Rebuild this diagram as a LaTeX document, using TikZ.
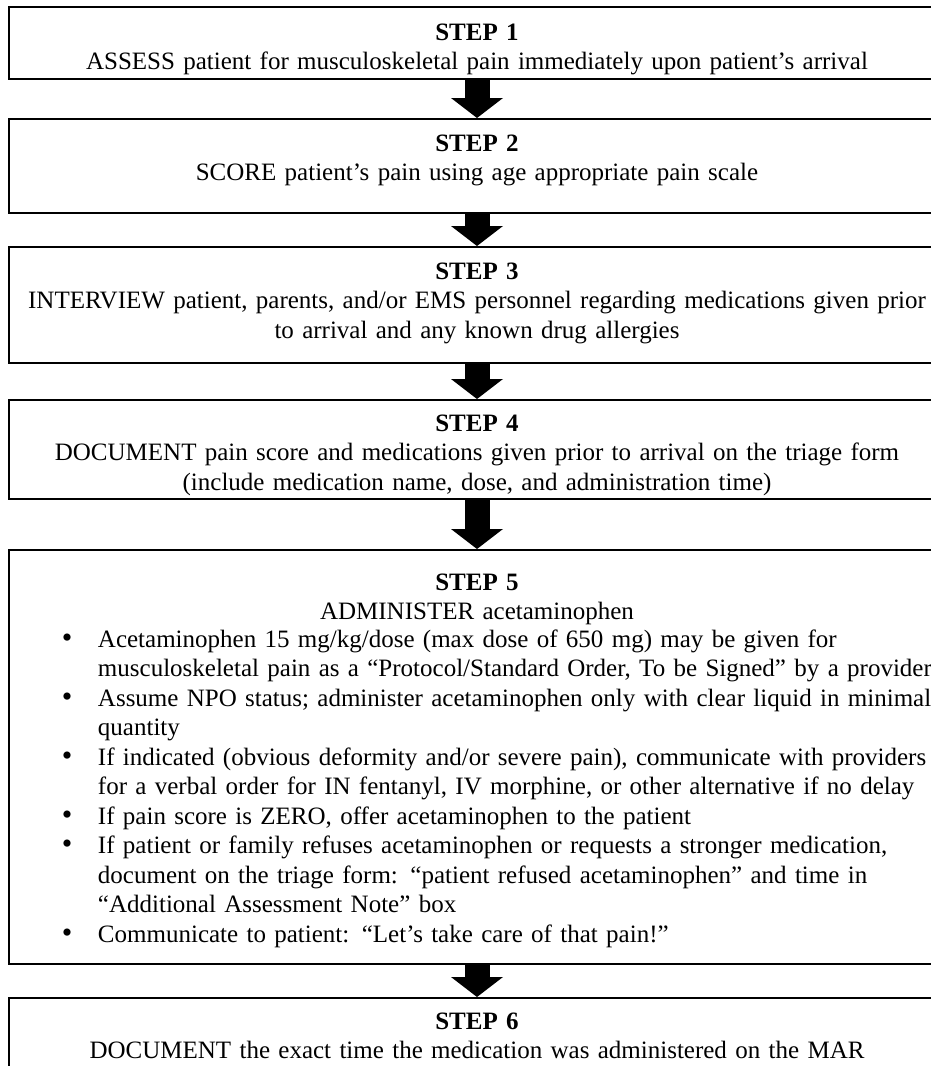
\documentclass[tikz,border=0pt]{standalone}
\usepackage{fontspec}
\setmainfont{Liberation Serif}
\usetikzlibrary{arrows.meta}
\newcommand{\boxw}{468pt}
\newcommand{\bul}{{\fontsize{15pt}{15pt}\selectfont\textbullet}}
\tikzstyle{stepbox}=[draw, line width=1pt, rectangle, anchor=north, inner xsep=0pt, inner ysep=0pt, text width=\boxw, minimum width=\boxw, align=center, font=\fontsize{12.5pt}{14.75pt}\selectfont]
\tikzstyle{bigarrow}=[line width=12.5pt, -{Triangle[width=26pt,length=10pt,line width=0pt]}]
\begin{document}
\begin{tikzpicture}[x=0.5pt,y=-0.5pt]
    \useasboundingbox (0,0) rectangle (931,1066);
    % The six steps, top to bottom
    \node[stepbox, text height=16.5pt, text depth=19.5pt] (s1) at (477,6) {\textbf{STEP 1}\\ ASSESS patient for musculoskeletal pain immediately upon patient’s arrival};
    \node[stepbox, text height=16pt, text depth=31pt] (s2) at (477,118) {\textbf{STEP 2}\\ SCORE patient’s pain using age appropriate pain scale};
    \node[stepbox, text height=16pt, text depth=42pt] (s3) at (477,246) {\textbf{STEP 3}\\ INTERVIEW patient, parents, and/or EMS personnel regarding medications given prior\\ to arrival and any known drug allergies};
    \node[stepbox, text height=15.5pt, text depth=34pt] (s4) at (477,399) {\textbf{STEP 4}\\ DOCUMENT pain score and medications given prior to arrival on the triage form\\ (include medication name, dose, and administration time)};
    \node[stepbox, text height=20pt, text depth=187pt] (s5) at (477,549) {\textbf{STEP 5}\\ ADMINISTER acetaminophen\\
        \makebox[\boxw][l]{\hspace{26.5pt}\begin{tabular}{@{}p{18pt}@{}l@{}}
            \bul & Acetaminophen 15 mg/kg/dose (max dose of 650 mg) may be given for\\
            & musculoskeletal pain as a “Protocol/Standard Order, To be Signed” by a provider\\
            \bul & Assume NPO status; administer acetaminophen only with clear liquid in minimal\\
            & quantity\\
            \bul & If indicated (obvious deformity and/or severe pain), communicate with providers\\
            & for a verbal order for IN fentanyl, IV morphine, or other alternative if no delay\\
            \bul & If pain score is ZERO, offer acetaminophen to the patient\\
            \bul & If patient or family refuses acetaminophen or requests a stronger medication,\\
            & document on the triage form: “patient refused acetaminophen” and time in\\
            & “Additional Assessment Note” box\\
            \bul & Communicate to patient: “Let’s take care of that pain!”
        \end{tabular}}};
    \node[stepbox, text height=15.5pt, text depth=28pt] (s6) at (477,997) {\textbf{STEP 6}\\ DOCUMENT the exact time the medication was administered on the MAR};

    % Arrows between the steps
    \foreach \source/\dest in {s1/s2, s2/s3, s3/s4, s4/s5, s5/s6}
        \draw[bigarrow] (\source.south) -- (\dest.north);
\end{tikzpicture}
\end{document}
